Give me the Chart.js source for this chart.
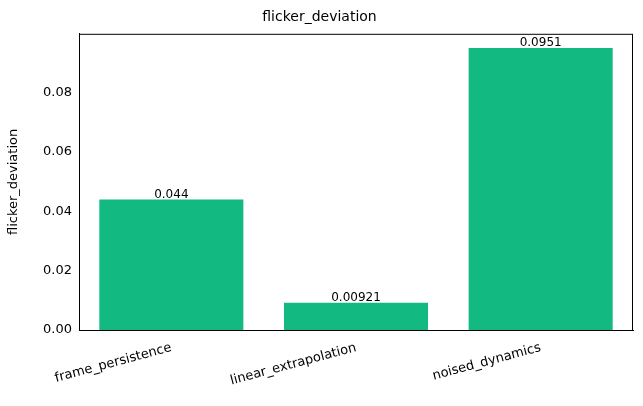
<!DOCTYPE html><html><head><script src="https://cdn.jsdelivr.net/npm/chart.js"></script>
<style>body{margin:0;background:#fff}#w{width:643px;height:406px}</style></head><body><div id="w"><canvas id="c"></canvas></div>
<script>
const categories=["frame_persistence","linear_extrapolation","noised_dynamics"];
const values=[0.044,0.00921,0.0951];
const valueLabels=["0.044","0.00921","0.0951"];
const yTicks=[0,0.02,0.04,0.06,0.08];
const F="DejaVu Sans";
const lbl={id:"lbl",afterDatasetsDraw(ch){const c=ch.ctx;const m=ch.getDatasetMeta(0);c.save();c.font="12px "+F;c.fillStyle="#000";c.textAlign="center";c.textBaseline="bottom";m.data.forEach((b,i)=>c.fillText(valueLabels[i],b.x,b.y+1));c.restore();}};
const frame={id:"frame",afterDraw(ch){const a=ch.chartArea,c=ch.ctx;c.save();c.strokeStyle="#000";c.lineWidth=1;c.strokeRect(a.left+0.5,a.top+0.5,a.right-a.left-1,a.bottom-a.top);c.restore();}};
new Chart(document.getElementById("c"),{type:"bar",data:{labels:categories,datasets:[{data:values,backgroundColor:"#12b981",barPercentage:0.78,categoryPercentage:1}]},
options:{responsive:true,maintainAspectRatio:false,animation:false,devicePixelRatio:1,
layout:{padding:{left:6,right:10,top:0,bottom:0}},
plugins:{legend:{display:false},tooltip:{enabled:false},title:{display:true,text:"flicker_deviation",font:{family:F,size:14,weight:"normal"},color:"#000",padding:{top:9,bottom:8}}},
scales:{x:{afterFit(s){s.height=76;},grid:{display:false,drawTicks:true},border:{color:"#000"},ticks:{color:"#000",font:{family:F,size:13},minRotation:15,maxRotation:15,padding:2}},
y:{min:0,max:0.09986,afterFit(s){s.width=73;},afterBuildTicks(s){s.ticks=yTicks.map(v=>({value:v}));},grid:{display:false,drawTicks:true,tickLength:4},border:{color:"#000"},title:{display:true,text:"flicker_deviation",color:"#000",font:{family:F,size:13},padding:{top:0,bottom:4}},ticks:{color:"#000",font:{family:F,size:13},callback:v=>v.toFixed(2)}}}},
plugins:[lbl,frame]});
</script></body></html>
